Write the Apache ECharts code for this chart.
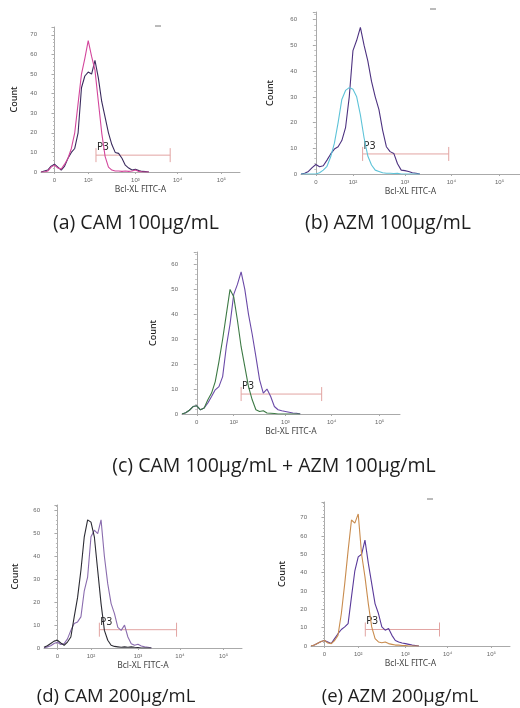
<!DOCTYPE html>
<html>
<head>
<meta charset="utf-8">
<script src="https://cdn.jsdelivr.net/npm/echarts@6/dist/echarts.min.js"></script>
<style>
  html, body { margin: 0; padding: 0; background: #fff; }
  #main { width: 520px; height: 708px; }
</style>
</head>
<body>
<div id="main"></div>
<script>
// 横轴位置 (显示坐标, 0 = 0, 1 = 10^2 ...)
var binPos = [-0.4,-0.3,-0.2,-0.1,0,0.1,0.2,0.3,0.4,0.5,0.6,0.7,0.8,0.9,1.0,1.1,1.2,1.3,1.4,1.5,1.6,1.7,1.8,1.9,2.0,2.1,2.2,2.3,2.4,2.5,2.6,2.7,2.8];
var tickPos = [0, 1, 2.4, 3.65, 4.95];
var tickText = ['0', '10²', '10³', '10⁴', '10⁵'];

// 各图说明
var captions = ['(a) CAM 100µg/mL', '(b) AZM 100µg/mL', '(c) CAM 100µg/mL + AZM 100µg/mL', '(d) CAM 200µg/mL', '(e) AZM 200µg/mL'];

// (a) CAM 100
var aControl = [0,0.5,1,3,4,2.5,1,3,7,10,12,20,43,49,51,50,57,48,36,28,20,14,10,9.5,7,3.5,2,1,1.4,0.7,0.3,0.2,0];
var aDrug    = [0,0,0.5,2.5,3.5,2,1.5,4,7,12,20,35,50,58,67,59,52,36,20,8,2.5,1,0.5,0.5,0.3,0.5,0.3,0.5,1,0.3,0,0,0];
// (b) AZM 100
var bControl = [0,0.3,1,2.5,3.7,2.8,3.2,5.4,7.8,9.7,10.6,13,18,30,48,52,57,50,44,36,30,25,17,10.6,8.7,8,4,1.5,1.3,1,0.5,0.3,0];
var bDrug    = [0,0,0,0,0,0.5,1.5,3,6.7,12,20,29,32.5,33.6,33,30,23,14,7,3.5,1.5,1,0.5,0.3,0.3,0.2,0.3,0,0,0,0,0,0];
// (c) CAM 100 + AZM 100
var cControl = [0,0.5,1.5,3,3.3,1.7,2.4,4.4,7,9.7,11,15,27,36,48,52,57,50,40,32,23,13.7,8.4,10,7,3,1.7,1.3,1,0.7,0.4,0.3,0];
var cDrug    = [0,0.5,1.5,3,3.3,1.7,2.4,5.7,8.4,13,21,30,40,50,47,37.6,27,19,11,5.7,1.7,1,1.3,0.4,0.3,0.2,0,0,0,0,0,0,0];
// (d) CAM 200
var dControl = [0,0.5,1,2,2.5,1.5,1.9,4,7.7,10.7,11.4,13.6,25,31,48.6,51.5,50,56,40,28,19.4,15,9,7.7,10,4.8,1.9,1.2,1.6,0.9,0.5,0.3,0];
var dDrug    = [0.3,1,2,3,3.4,2.2,1.2,2.6,4.8,13.6,22,34,48.6,56,55,48.6,34,19.4,7.7,3.4,1.2,0.7,0.5,0.3,0.5,0.3,0.5,0.3,0.2,0,0,0,0];
// (e) AZM 200
var eControl = [0,0.5,1.5,2.5,3,2.2,1.3,4,6.7,9,10.4,12.2,26.8,41,48.6,50,57.7,45,34,23,17.7,10.4,8.6,9.5,5.8,3,2.2,1.6,1.3,0.9,0.5,0.3,0];
var eDrug    = [0,0.5,1.5,2.5,3,1.6,1.3,3,5.8,17.7,34,52,68.7,67,72,50,37.7,23,10.4,4,2.2,1.8,2.2,1.3,0.9,0.5,0.5,0.3,0.2,0,0,0,0];

// P3 门: [起点, 终点, 高度]
var gateA = [1.23, 3.43, 8.6];
var gateB = [1.26, 3.58, 7.8];
var gateC = [1.2, 3.38, 8];
var gateD = [1.25, 3.55, 8];
var gateE = [1.21, 3.41, 9];

var myChart = echarts.init(document.getElementById('main'));

var panels = [
    {grid: {left: 41, top: 27, width: 199, height: 145}, yMax: 74, nameGapY: 22, gate: gateA,
     curves: [{d: aControl, c: '#3b2b5e'}, {d: aDrug, c: '#d3469c'}], cap: [136, 223, 19.5]},
    {grid: {left: 301, top: 12, width: 219, height: 162}, yMax: 63, nameGapY: 26, gate: gateB,
     curves: [{d: bControl, c: '#4d3280'}, {d: bDrug, c: '#5ec3d8'}], cap: [388, 223, 19.5]},
    {grid: {left: 182, top: 252, width: 218, height: 162}, yMax: 65, nameGapY: 24, gate: gateC,
     curves: [{d: cControl, c: '#6b4aa8'}, {d: cDrug, c: '#3d7a45'}], cap: [274, 466, 19.5]},
    {grid: {left: 44, top: 505, width: 198, height: 143}, yMax: 62.5, nameGapY: 24, gate: gateD,
     curves: [{d: dControl, c: '#8a6cae'}, {d: dDrug, c: '#2b2b33'}], cap: [116, 697, 18.5]},
    {grid: {left: 311, top: 502, width: 199, height: 144}, yMax: 78.5, nameGapY: 24, gate: gateE,
     curves: [{d: eControl, c: '#5a3a9a'}, {d: eDrug, c: '#c98c4e'}], cap: [400, 697, 18.5]}
];

var grids = [], xAxes = [], yAxes = [], series = [], graphics = [];

panels.forEach(function (p, i) {
    grids.push(p.grid);
    xAxes.push({
        type: 'value', gridIndex: i, min: -0.4, max: 5.5,
        name: 'Bcl-XL FITC-A', nameLocation: 'middle', nameGap: 13,
        nameTextStyle: {fontSize: 8.5, color: '#444', fontFamily: 'Noto Sans'},
        axisLine: {lineStyle: {color: '#aaa', width: 1}},
        axisTick: {customValues: tickPos, length: 2, lineStyle: {color: '#aaa'}},
        axisLabel: {
            customValues: tickPos, fontSize: 6, color: '#666', margin: 5,
            formatter: function (v) { return tickText[tickPos.indexOf(v)]; }
        },
        splitLine: {show: false}
    });
    yAxes.push({
        type: 'value', gridIndex: i, min: 0, max: p.yMax, interval: 10,
        name: 'Count', nameLocation: 'middle', nameGap: p.nameGapY,
        nameTextStyle: {fontSize: 9, color: '#222', fontWeight: 500, fontFamily: 'Noto Sans'},
        axisLine: {show: true, lineStyle: {color: '#aaa', width: 1}},
        axisTick: {show: true, length: 3, lineStyle: {color: '#aaa'}},
        minorTick: {show: true, splitNumber: 5, length: 1.5, lineStyle: {color: '#bbb'}},
        axisLabel: {fontSize: 6, color: '#666', margin: 4, showMaxLabel: false},
        splitLine: {show: false}
    });
    p.curves.forEach(function (cv) {
        series.push({
            type: 'line', xAxisIndex: i, yAxisIndex: i, symbol: 'none', silent: true,
            lineStyle: {color: cv.c, width: 1.1},
            data: binPos.map(function (x, k) { return [x, cv.d[k]]; })
        });
    });
    // P3 门
    series.push({
        type: 'custom', xAxisIndex: i, yAxisIndex: i, silent: true,
        encode: {x: [0, 1], y: 2},
        data: [p.gate],
        renderItem: function (params, api) {
            var a = api.coord([api.value(0), api.value(2)]);
            var b = api.coord([api.value(1), api.value(2)]);
            var st = {stroke: '#e2a4a2', lineWidth: 1};
            return {type: 'group', children: [
                {type: 'line', shape: {x1: a[0], y1: a[1], x2: b[0], y2: b[1]}, style: st},
                {type: 'line', shape: {x1: a[0], y1: a[1] - 7, x2: a[0], y2: a[1] + 7}, style: st},
                {type: 'line', shape: {x1: b[0], y1: b[1] - 7, x2: b[0], y2: b[1] + 7}, style: st},
                {type: 'text', x: a[0] + 1, y: a[1] - 3, style: {text: 'P3', fill: '#222', font: '10px "Noto Sans"', textVerticalAlign: 'bottom'}}
            ]};
        }
    });
    graphics.push({
        type: 'text', x: p.cap[0], y: p.cap[1],
        style: {text: captions[i], fill: '#1e1e1e', font: p.cap[2] + 'px "Open Sans"', textAlign: 'center', textVerticalAlign: 'middle'}
    });
});

// 顶部小标记
[[158, 26], [433, 9], [430, 499]].forEach(function (m) {
    graphics.push({type: 'line', shape: {x1: m[0] - 3, y1: m[1], x2: m[0] + 3, y2: m[1]}, style: {stroke: '#777', lineWidth: 1}});
});

myChart.setOption({
    animation: false,
    grid: grids,
    xAxis: xAxes,
    yAxis: yAxes,
    series: series,
    graphic: graphics
});
window.addEventListener('resize', myChart.resize);
</script>
</body>
</html>
